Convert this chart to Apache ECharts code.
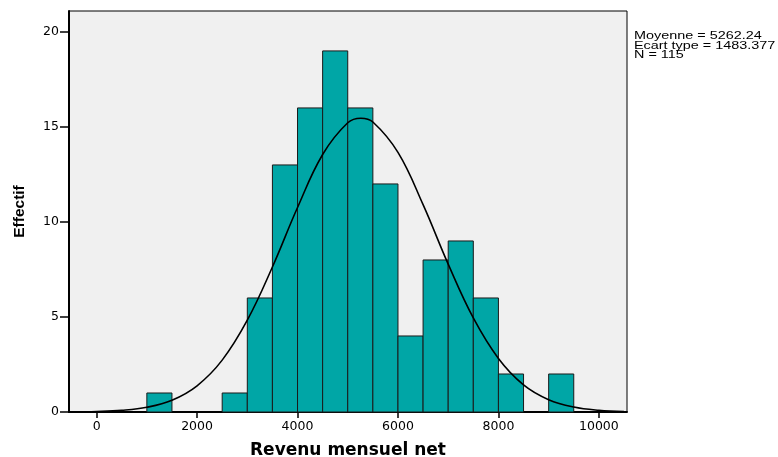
<!DOCTYPE html>
<html>
<head>
<meta charset="utf-8">
<script src="https://cdn.jsdelivr.net/npm/echarts@6/dist/echarts.min.js"></script>
<style>
html,body{margin:0;padding:0;background:#fff;}
#chart{width:778px;height:457px;}
</style>
</head>
<body>
<div id="chart"></div>
<script>
// ---- data ----
const binStarts = [1000, 2500, 3000, 3500, 4000, 4500, 5000, 5500, 6000, 6500, 7000, 7500, 8000, 9000];
const binCounts = [1, 1, 6, 13, 16, 19, 16, 12, 4, 8, 9, 6, 2, 2];
const binWidth = 500;
const curveX = [-500, 0, 500, 1000, 1500, 2000, 2500, 3000, 3500, 4000, 4500, 5000, 5262, 5500, 6000, 6500, 7000, 7500, 8000, 8500, 9000, 9500, 10000, 10500];
const curveY = [0.01, 0.03, 0.09, 0.25, 0.62, 1.38, 2.73, 4.83, 7.63, 10.76, 13.55, 15.22, 15.46, 15.26, 13.66, 10.91, 7.78, 4.95, 2.82, 1.43, 0.65, 0.26, 0.09, 0.03];
const xTicks = [0, 2000, 4000, 6000, 8000, 10000];
const yTicks = [0, 5, 10, 15, 20];
const statLines = ['Moyenne = 5262.24', 'Ecart type = 1483.377', 'N = 115'];
const xTitle = 'Revenu mensuel net';
const yTitle = 'Effectif';

// ---- chart ----
const chart = echarts.init(document.getElementById('chart'));
const barData = binStarts.map((s, i) => [s, binCounts[i]]);
const curveData = curveX.map((x, i) => [x, curveY[i]]);

chart.setOption({
  animation: false,
  grid: {
    left: 69, right: 151, top: 11, bottom: 45,
    outerBoundsMode: 'none', containLabel: false,
    show: true, backgroundColor: '#f0f0f0', borderColor: '#000', borderWidth: 1
  },
  xAxis: {
    type: 'value', min: -550, max: 10560,
    name: xTitle, nameLocation: 'middle', nameGap: 30,
    nameTextStyle: { fontFamily: 'DejaVu Sans', fontWeight: 'bold', fontSize: 17, color: '#000' },
    axisLine: { show: true, onZero: false, lineStyle: { color: '#000', width: 2 } },
    axisTick: { show: true, length: 6, customValues: xTicks, lineStyle: { color: '#000', width: 1.5 } },
    axisLabel: { customValues: xTicks, margin: 8, fontFamily: 'DejaVu Sans', fontSize: 12.5, color: '#000',
                 formatter: v => String(v) },
    splitLine: { show: false }
  },
  yAxis: {
    type: 'value', min: 0, max: 21.1,
    name: yTitle, nameLocation: 'middle', nameGap: 41, nameRotate: 90,
    nameTextStyle: { fontFamily: 'Liberation Sans', fontWeight: 'bold', fontSize: 15.5, color: '#000' },
    axisLine: { show: true, onZero: false, lineStyle: { color: '#000', width: 2 } },
    axisTick: { show: true, length: 9, customValues: yTicks, lineStyle: { color: '#000', width: 1.5 } },
    axisLabel: { customValues: yTicks, margin: 10, fontFamily: 'DejaVu Sans', fontSize: 12.5, color: '#000',
                 formatter: v => String(v) },
    splitLine: { show: false }
  },
  graphic: [{
    type: 'text', x: 634, y: 32, scaleX: 1.44,
    style: { text: statLines.join('\n'), fontFamily: 'Liberation Sans, Arial, sans-serif', fontSize: 10, lineHeight: 9.4, fill: '#000' }
  }],
  series: [{
    type: 'custom',
    data: barData,
    renderItem: function (params, api) {
      const x0 = api.value(0);
      const c = api.value(1);
      const p0 = api.coord([x0, c]);
      const p1 = api.coord([x0 + binWidth, 0]);
      return {
        type: 'rect',
        shape: { x: p0[0], y: p0[1], width: p1[0] - p0[0], height: p1[1] - p0[1] },
        style: { fill: '#00a6a6', stroke: '#1a1a1a', lineWidth: 1 }
      };
    },
    z: 2
  }, {
    type: 'line',
    data: curveData,
    smooth: 0.4,
    showSymbol: false,
    symbol: 'none',
    lineStyle: { color: '#000', width: 1.6 },
    z: 3
  }]
});
</script>
</body>
</html>
